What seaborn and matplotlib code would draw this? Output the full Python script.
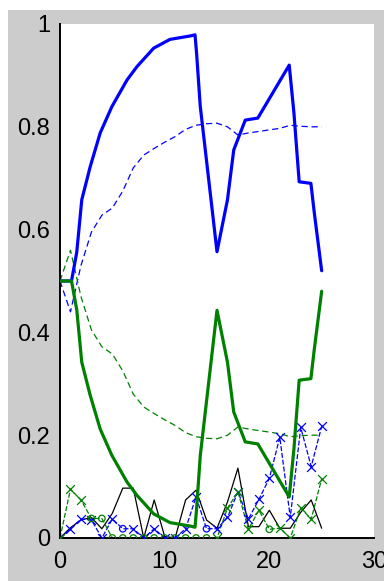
import numpy as np
import pandas as pd
import matplotlib
matplotlib.use("Agg")
import matplotlib.pyplot as plt
import seaborn as sns

# ---- smoothed state probabilities (thick lines) ----
t_smooth = [0, 1.1, 1.6, 2.08, 2.88, 3.84, 4.95, 6.4, 7.35, 8.95, 10.5, 12.5, 12.9,
            13.05, 13.4, 15.0, 16.0, 16.6, 17.7, 18.9, 21.9, 22.35, 22.85, 23.97,
            24.3, 25.0]
p_state1 = [0.5, 0.5, 0.556, 0.658, 0.722, 0.788, 0.839, 0.891, 0.917, 0.953, 0.970,
            0.977, 0.979, 0.943, 0.840, 0.557, 0.658, 0.755, 0.813, 0.817, 0.920,
            0.827, 0.693, 0.690, 0.632, 0.520]
p_state2 = [0.5, 0.5, 0.444, 0.342, 0.278, 0.212, 0.161, 0.109, 0.083, 0.047, 0.030,
            0.023, 0.021, 0.057, 0.160, 0.443, 0.342, 0.245, 0.187, 0.183, 0.080,
            0.173, 0.307, 0.310, 0.368, 0.480]

# ---- filtered state probabilities (dashed lines) ----
t = list(range(26))
f_state1 = [0.5, 0.44, 0.53, 0.595, 0.628, 0.642, 0.675, 0.72, 0.745, 0.758, 0.77,
            0.781, 0.795, 0.803, 0.806, 0.807, 0.80, 0.784, 0.788, 0.791, 0.794,
            0.797, 0.803, 0.801, 0.80, 0.80]
f_state2 = [0.5, 0.56, 0.47, 0.405, 0.372, 0.358, 0.325, 0.28, 0.255, 0.242, 0.23,
            0.219, 0.205, 0.197, 0.194, 0.193, 0.20, 0.216, 0.212, 0.209, 0.206,
            0.203, 0.197, 0.199, 0.20, 0.20]

# ---- per-step errors (thin lines near zero) ----
err_blue = [0, 0.018, 0.037, 0.035, 0, 0.037, 0.018, 0.018, 0, 0.018, 0, 0, 0.018,
            0.08, 0.018, 0.018, 0.04, 0.09, 0.037, 0.075, 0.116, 0.196, 0.04, 0.215,
            0.139, 0.217]
err_green = [0, 0.095, 0.074, 0.038, 0.038, 0, 0, 0, 0, 0, 0, 0, 0, 0, 0, 0, 0.058,
             0.09, 0.017, 0.054, 0.017, 0.019, 0, 0.058, 0.037, 0.115]
err_black = [0.0, 0.02, 0.035, 0.04, 0.018, 0.048, 0.097, 0.097, 0, 0.074, 0.003, 0,
             0.074, 0.093, 0.035, 0.019, 0.07, 0.136, 0.022, 0.022, 0.054, 0.019,
             0.019, 0.05, 0.074, 0.019]
green_circle_idx = [3, 4, 5, 6, 7, 8, 9, 10, 11, 12, 13, 14, 20]
blue_circle_idx = [6, 14]

xticks = [0, 10, 20, 30]
yticks = [0, 0.2, 0.4, 0.6, 0.8, 1]
ytick_labels = ["0", "0.2", "0.4", "0.6", "0.8", "1"]

BLUE = "#0000ff"
GREEN = "#008000"

sns.set_style("white")
plt.rcParams["font.family"] = ["Liberation Sans", "DejaVu Sans"]

fig = plt.figure(figsize=(3.84, 5.81), dpi=100, facecolor="white")
fig.patches.append(plt.Rectangle((8 / 384, 0), 1, 1 - 10 / 581,
                                 transform=fig.transFigure, facecolor="#cccccc",
                                 edgecolor="none", zorder=-10))
ax = fig.add_axes([60 / 384, 1 - 538 / 581, 314 / 384, 514 / 581])
ax.set_facecolor("white")

err = pd.DataFrame({"t": t, "blue": err_blue, "green": err_green, "black": err_black})

# error traces
sns.lineplot(data=err, x="t", y="black", color="black", lw=0.9, ax=ax,
             estimator=None, sort=False)
sns.lineplot(data=err, x="t", y="blue", color=BLUE, lw=0.9, ax=ax,
             estimator=None, sort=False, linestyle=(0, (4, 1.5)))
sns.lineplot(data=err, x="t", y="green", color=GREEN, lw=0.9, ax=ax,
             estimator=None, sort=False, linestyle=(0, (4, 1.5)))

blue_x = err[~err.index.isin(blue_circle_idx)]
blue_o = err[err.index.isin(blue_circle_idx)]
green_x = err[~err.index.isin(green_circle_idx)]
green_o = err[err.index.isin(green_circle_idx)]
sns.scatterplot(data=blue_x, x="t", y="blue", marker="x", color=BLUE, s=40,
                linewidth=0.9, ax=ax, zorder=3)
sns.scatterplot(data=blue_o, x="t", y="blue", marker="o", facecolor="none",
                edgecolor=BLUE, s=22, linewidth=0.9, ax=ax, zorder=3)
sns.scatterplot(data=green_x, x="t", y="green", marker="x", color=GREEN, s=40,
                linewidth=0.9, ax=ax, zorder=3)
sns.scatterplot(data=green_o, x="t", y="green", marker="o", facecolor="none",
                edgecolor=GREEN, s=22, linewidth=0.9, ax=ax, zorder=3)

# filtered (dashed)
filt = pd.DataFrame({"t": t, "s1": f_state1, "s2": f_state2})
sns.lineplot(data=filt, x="t", y="s1", color=BLUE, lw=0.9, ax=ax,
             estimator=None, sort=False, linestyle=(0, (5, 3)))
sns.lineplot(data=filt, x="t", y="s2", color=GREEN, lw=0.9, ax=ax,
             estimator=None, sort=False, linestyle=(0, (5, 3)))

# smoothed (thick)
smooth = pd.DataFrame({"t": t_smooth, "s1": p_state1, "s2": p_state2})
sns.lineplot(data=smooth, x="t", y="s1", color=BLUE, lw=2.3, ax=ax,
             estimator=None, sort=False, zorder=4)
sns.lineplot(data=smooth, x="t", y="s2", color=GREEN, lw=2.3, ax=ax,
             estimator=None, sort=False, zorder=4)

ax.set_xlim(0, 30)
ax.set_ylim(0, 1)
ax.set_xticks(xticks)
ax.set_xticklabels([str(v) for v in xticks])
ax.set_yticks(yticks)
ax.set_yticklabels(ytick_labels)
ax.set_xlabel("")
ax.set_ylabel("")
for side in ("top", "right"):
    ax.spines[side].set_visible(False)
for side in ("left", "bottom"):
    ax.spines[side].set_color("black")
    ax.spines[side].set_linewidth(1.4)
ax.tick_params(direction="in", length=4, width=1, colors="black",
               labelsize=17, pad=7)
ax.tick_params(axis="x", pad=9)

fig.savefig("out.png", dpi=100, facecolor=fig.get_facecolor())
